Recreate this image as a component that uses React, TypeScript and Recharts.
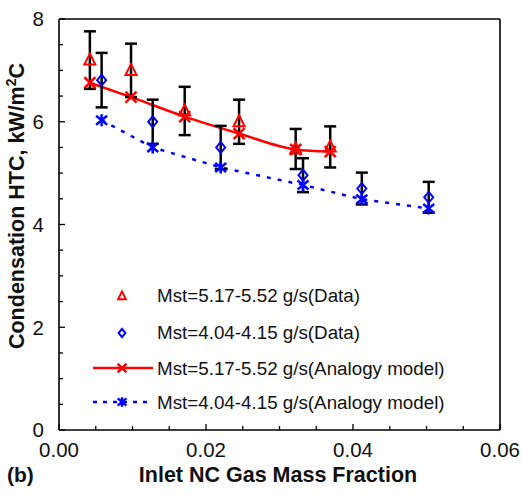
import React from 'react';
import { ComposedChart, XAxis, YAxis, Scatter, Line, ErrorBar, Legend, Label, ReferenceLine } from 'recharts';

// Data
const redX = [0.0042, 0.0098, 0.0171, 0.0245, 0.0322, 0.0369];
const redDataY = [7.2, 7.0, 6.21, 6.0, 5.47, 5.51];
const redErr = [0.56, 0.52, 0.47, 0.43, 0.39, 0.40];
const redModelY = [6.76, 6.48, 6.10, 5.77, 5.46, 5.42];

const blueX = [0.0058, 0.01275, 0.022, 0.0332, 0.0412, 0.0503];
const blueDataY = [6.81, 6.0, 5.5, 4.96, 4.7, 4.53];
const blueErr = [0.53, 0.43, 0.42, 0.33, 0.31, 0.30];
const blueModelY = [6.03, 5.5, 5.11, 4.77, 4.49, 4.31];

const xTicks = [0, 0.005, 0.01, 0.015, 0.02, 0.025, 0.03, 0.035, 0.04, 0.045, 0.05, 0.055, 0.06];
const yTicks = [0, 0.5, 1, 1.5, 2, 2.5, 3, 3.5, 4, 4.5, 5, 5.5, 6, 6.5, 7, 7.5, 8];

const legendLabels = [
  'Mst=5.17-5.52 g/s(Data)',
  'Mst=4.04-4.15 g/s(Data)',
  'Mst=5.17-5.52 g/s(Analogy model)',
  'Mst=4.04-4.15 g/s(Analogy model)',
];

const redData = redX.map((x, i) => ({ x, y: redDataY[i], err: redErr[i] }));
const blueData = blueX.map((x, i) => ({ x, y: blueDataY[i], err: blueErr[i] }));
const redModel = redX.map((x, i) => ({ x, y: redModelY[i] }));
const blueModel = blueX.map((x, i) => ({ x, y: blueModelY[i] }));

const FONT = '"Liberation Sans", Arial, Helvetica, sans-serif';
const RED = '#ff0000';
const BLUE = '#0000ff';

const Triangle = ({ cx, cy, s = 1 }: any) => (
  <polygon
    points={`${cx},${cy - 6.5 * s} ${cx - 5.5 * s},${cy + 4.5 * s} ${cx + 5.5 * s},${cy + 4.5 * s}`}
    fill="none"
    stroke={RED}
    strokeWidth={2}
  />
);
const Diamond = ({ cx, cy, s = 1 }: any) => (
  <polygon
    points={`${cx},${cy - 5.5 * s} ${cx + 4.5 * s},${cy} ${cx},${cy + 5.5 * s} ${cx - 4.5 * s},${cy}`}
    fill="none"
    stroke={BLUE}
    strokeWidth={2}
  />
);
const XMark = ({ cx, cy, s = 1 }: any) => (
  <path
    d={`M${cx - 5.5 * s},${cy - 5.5 * s}L${cx + 5.5 * s},${cy + 5.5 * s}M${cx - 5.5 * s},${cy + 5.5 * s}L${cx + 5.5 * s},${cy - 5.5 * s}`}
    stroke={RED}
    strokeWidth={2.5}
    fill="none"
  />
);
const Star = ({ cx, cy, s = 1 }: any) => (
  <path
    d={`M${cx - 5.5 * s},${cy - 4.5 * s}L${cx + 5.5 * s},${cy + 4.5 * s}M${cx - 5.5 * s},${cy + 4.5 * s}L${cx + 5.5 * s},${cy - 4.5 * s}M${cx},${cy - 6 * s}L${cx},${cy + 6 * s}`}
    stroke={BLUE}
    strokeWidth={2.5}
    fill="none"
  />
);

const isMajor = (v: number, step: number) => Math.abs(v / step - Math.round(v / step)) < 1e-6;

const XTick = (props: any) => {
  const { x, y, payload } = props;
  const major = isMajor(payload.value, 0.02);
  return (
    <g>
      <line x1={x} x2={x} y1={y} y2={y - (major ? 6 : 4)} stroke="#000" strokeWidth={1.3} />
      {major && (
        <text x={x} y={y + 27} textAnchor="middle" fontFamily={FONT} fontSize={20.5} fill="#111">
          {payload.value.toFixed(2)}
        </text>
      )}
    </g>
  );
};

const YTick = (props: any) => {
  const { x, y, payload } = props;
  const major = isMajor(payload.value, 2);
  return (
    <g>
      <line x1={x} x2={x + (major ? 6 : 4)} y1={y} y2={y} stroke="#000" strokeWidth={1.3} />
      {major && (
        <text x={x - 15} y={y} dy="0.36em" textAnchor="end" fontFamily={FONT} fontSize={20.5} fill="#111">
          {payload.value}
        </text>
      )}
    </g>
  );
};

const LegendContent = () => {
  const rows = [16, 53, 89, 123];
  return (
    <svg width={400} height={140} style={{ display: 'block' }}>
      <Triangle cx={32} cy={rows[0] + 1} s={0.7} />
      <Diamond cx={32} cy={rows[1] + 1} s={0.75} />
      <line x1={3} x2={63} y1={rows[2]} y2={rows[2]} stroke={RED} strokeWidth={2.5} />
      <XMark cx={32} cy={rows[2]} s={0.8} />
      <line x1={3} x2={60} y1={rows[3]} y2={rows[3]} stroke={BLUE} strokeWidth={2.5} strokeDasharray="4 6" />
      <Star cx={32} cy={rows[3]} s={0.8} />
      {legendLabels.map((t, i) => (
        <text key={t} x={67} y={rows[i]} dy="0.36em" fontFamily={FONT} fontSize={18.8} fill="#111">
          {t}
        </text>
      ))}
    </svg>
  );
};

export default function App() {
  return (
    <div style={{ position: 'absolute', left: 0, top: 0, width: 522, height: 498, background: '#fff' }}>
      <ComposedChart width={522} height={498} margin={{ top: 19, right: 22, bottom: 0, left: 0 }}>
        <XAxis
          type="number"
          dataKey="x"
          domain={[0, 0.06]}
          ticks={xTicks}
          interval={0}
          allowDataOverflow
          height={68}
          tickSize={0}
          tickMargin={0}
          tick={<XTick />}
          axisLine={{ stroke: '#000', strokeWidth: 1.6 }}
          tickLine={false}
        >
          <Label
            content={() => (
              <g>
                <text x={278} y={482} textAnchor="middle" fontFamily={FONT} fontWeight="bold" fontSize={21.5} fill="#111">
                  Inlet NC Gas Mass Fraction
                </text>
                <text x={7} y={482} fontFamily={FONT} fontWeight="bold" fontSize={21} fill="#111">
                  (b)
                </text>
              </g>
            )}
          />
        </XAxis>
        <YAxis
          type="number"
          dataKey="y"
          domain={[0, 8]}
          ticks={yTicks}
          interval={0}
          allowDataOverflow
          width={59}
          tickSize={0}
          tickMargin={0}
          tick={<YTick />}
          axisLine={{ stroke: '#000', strokeWidth: 1.6 }}
          tickLine={false}
        >
          <Label
            content={() => (
              <text
                transform="translate(23.5,206) rotate(-90)"
                textAnchor="middle"
                fontFamily={FONT}
                fontWeight="bold"
                fontSize={21.5}
                fill="#111"
              >
                Condensation HTC, kW/m
                <tspan dy={-8} fontSize={14}>2</tspan>
                <tspan dy={8}>C</tspan>
              </text>
            )}
          />
        </YAxis>
        <ReferenceLine y={8} stroke="#000" strokeWidth={1.6} />
        <ReferenceLine x={0.06} stroke="#000" strokeWidth={1.6} />
        <Line
          data={redModel}
          dataKey="y"
          type="monotone"
          stroke={RED}
          strokeWidth={2.5}
          dot={(p: any) => <XMark key={`r${p.index}`} cx={p.cx} cy={p.cy} />}
          activeDot={false}
          isAnimationActive={false}
          legendType="none"
        />
        <Line
          data={blueModel}
          dataKey="y"
          type="linear"
          stroke={BLUE}
          strokeWidth={2.5}
          strokeDasharray="4 7"
          dot={(p: any) => <Star key={`b${p.index}`} cx={p.cx} cy={p.cy} />}
          activeDot={false}
          isAnimationActive={false}
          legendType="none"
        />
        <Scatter data={redData} dataKey="y" shape={(p: any) => <Triangle cx={p.cx} cy={p.cy} />} isAnimationActive={false}>
          <ErrorBar dataKey="err" direction="y" width={6} stroke="#000" strokeWidth={2.5} />
        </Scatter>
        <Scatter data={blueData} dataKey="y" shape={(p: any) => <Diamond cx={p.cx} cy={p.cy} />} isAnimationActive={false}>
          <ErrorBar dataKey="err" direction="y" width={6} stroke="#000" strokeWidth={2.5} />
        </Scatter>
        <Legend
          layout="vertical"
          align="center"
          verticalAlign="middle"
          content={() => <LegendContent />}
          wrapperStyle={{ left: 90, top: 279, width: 400, height: 140 }}
        />
      </ComposedChart>
    </div>
  );
}
